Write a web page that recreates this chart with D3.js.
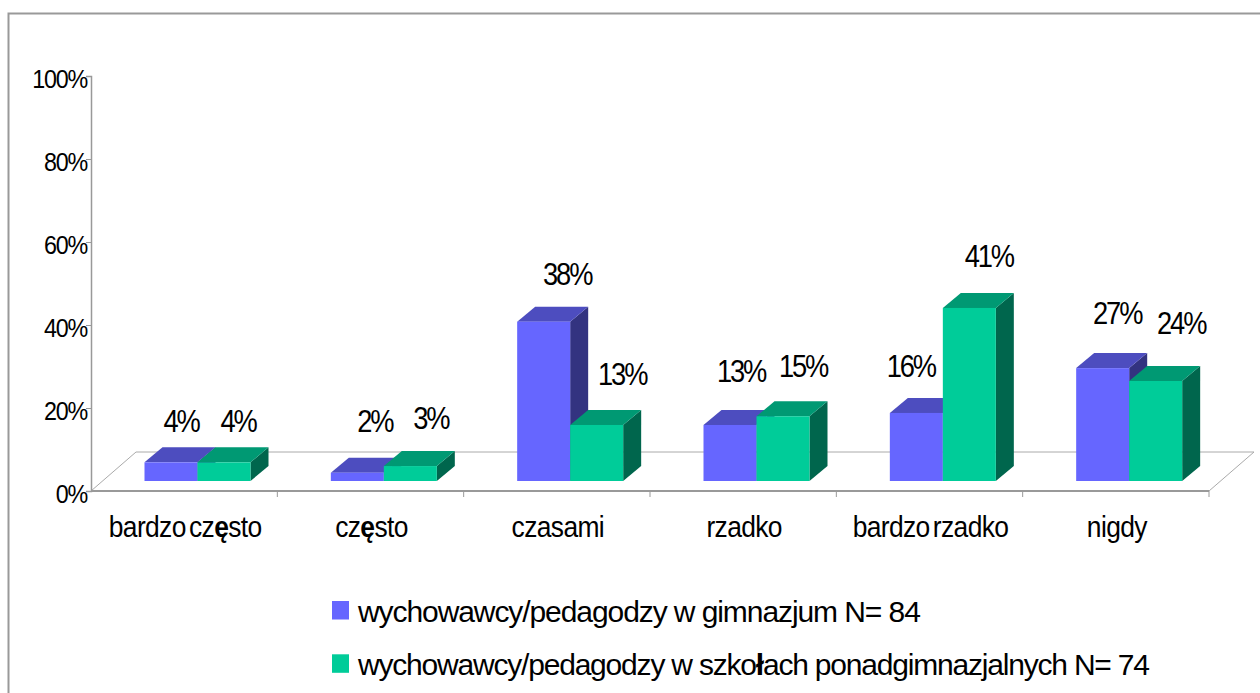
<!DOCTYPE html>
<html><head><meta charset="utf-8">
<script src="https://d3js.org/d3.v7.min.js"></script>
<style>
html,body{margin:0;padding:0;background:#fff;overflow:hidden}
svg{display:block}
text{font-family:"Liberation Sans",Arial,sans-serif;fill:#000}
</style></head><body>
<svg id="c" width="1260" height="693"></svg>
<script>
const categories=["bardzo często","często","czasami","rzadko","bardzo rzadko","nigdy"];
const seriesNames=["wychowawcy/pedagodzy w gimnazjum N= 84","wychowawcy/pedagodzy w szkołach ponadgimnazjalnych N= 74"];
const gimnazjum=[4.5,2,38.4,13.5,16.4,27.2];
const ponadgimnazjalne=[4.5,3.6,13.5,15.6,41.7,24.1];
const gimnazjumLabels=["4%","2%","38%","13%","16%","27%"];
const ponadLabels=["4%","3%","13%","15%","41%","24%"];
const yTicks=[0,20,40,60,80,100];

// layout
const svg=d3.select("#c");
const x0=91,x1=1209,yB=491,yT=76;
const floorD={x:45,y:-39}, barD={x:18,y:-15}, barLift=-10;
const barW=53, barStart=53.5;
const fills=[{f:"#6666FF",t:"#4D4DBF",s:"#333380"},{f:"#00CC99",t:"#009973",s:"#00664D"}];
// hand-placed label nudges of the original, relative to the back top edge of the bar [dx,dy]
const nudgeA=[[-8,-15],[-0.5,-25.5],[5.5,-21.5],[-7,-27.5],[-23.5,-21],[-3.5,-29]];
const nudgeB=[[-4,-15],[2.5,-22],[7.5,-24.5],[2,-24.5],[1.5,-26],[7.5,-32]];

const y=d3.scaleLinear().domain([0,100]).range([yB,yT]);
const xb=d3.scaleBand().domain(categories).range([x0,x1]);

// frame
svg.append("path").attr("d","M1262,13.5H8.5V695").attr("fill","none").attr("stroke","#999").attr("stroke-width",2);

// floor
svg.append("path").attr("d",d3.line()([[x0,yB],[x0+floorD.x,yB+floorD.y],[x1+floorD.x,yB+floorD.y],[x1,yB]]))
  .attr("fill","none").attr("stroke","#aaa").attr("stroke-width",1);

// y axis
const ya=svg.append("g").attr("transform",`translate(${x0},0)`)
  .call(d3.axisLeft(y).tickValues(yTicks).tickSize(5).tickFormat(d=>d+"%"));
ya.select(".domain").attr("stroke","#999").attr("stroke-width",1.5);
ya.selectAll("line").attr("stroke","#999");
ya.selectAll("text").attr("font-size",26.5).style("letter-spacing","-1.4px").attr("dy","11.5px").attr("x",0).attr("transform","translate(-4,0) scale(0.88,1)");

// x axis
const xa=svg.append("g").attr("transform",`translate(0,${yB})`)
  .call(d3.axisBottom(xb).tickSize(0).tickPadding(0));
xa.select(".domain").attr("stroke","#999").attr("stroke-width",2).attr("d",`M${x0},0H${x1}`);
xa.selectAll("text").each(function(d){
  const t=d3.select(this).text("").attr("font-size",30).style("letter-spacing","-0.7px").style("word-spacing","-4px")
    .attr("y",46).attr("dy",0).attr("transform","translate(1,0) scale(0.88,1)");
  for(const part of d.split(/(ę)/)){ if(part) t.append("tspan").text(part).attr("font-weight",part==="ę"?"bold":null); }
});
svg.append("g").selectAll("line").data(d3.range(1,categories.length+1)).join("line")
  .attr("x1",i=>x0+xb.step()*i).attr("x2",i=>x0+xb.step()*i).attr("y1",yB).attr("y2",yB+6)
  .attr("stroke","#999");

// bars
const series=[gimnazjum,ponadgimnazjalne];
categories.forEach((c,i)=>{
  const g=svg.append("g");
  series.forEach((vals,s)=>{
    const l=xb(c)+barStart+s*barW, r=l+barW, bot=yB+barLift, top=y(vals[i])+barLift;
    const col=fills[s];
    g.append("path").attr("fill",col.s).attr("d",d3.line()([[r,bot],[r,top],[r+barD.x,top+barD.y],[r+barD.x,bot+barD.y]]));
    g.append("path").attr("fill",col.t).attr("d",d3.line()([[l,top],[l+barD.x,top+barD.y],[r+barD.x,top+barD.y],[r,top]]));
    g.append("rect").attr("x",l).attr("y",top).attr("width",barW).attr("height",bot-top).attr("fill",col.f);
  });
});

// value labels
[[gimnazjum,gimnazjumLabels,nudgeA],[ponadgimnazjalne,ponadLabels,nudgeB]].forEach(([vals,labs,n],s)=>{
  svg.append("g").selectAll("text").data(categories).join("text")
    .attr("text-anchor","middle").attr("font-size",31).style("letter-spacing","-2.4px")
    .attr("transform",(c,i)=>`translate(${xb(c)+barStart+s*barW+barW/2+barD.x+n[i][0]},${y(vals[i])+barLift+barD.y+n[i][1]}) scale(0.88,1)`)
    .text((c,i)=>labs[i]);
});

// legend
const leg=svg.append("g");
const legendSpacing=["-1.08px","-1.2px"];
seriesNames.forEach((name,i)=>{
  const yy=601+i*53.3;
  leg.append("rect").attr("x",332).attr("y",yy).attr("width",17).attr("height",18.5).attr("fill",fills[i].f);
  const t=leg.append("text").attr("x",358).attr("y",yy+21).attr("font-size",30).style("letter-spacing",legendSpacing[i]);
  for(const part of name.split(/(ł)/)){ if(part) t.append("tspan").text(part).attr("font-weight",part==="ł"?"bold":null); }
});
</script>
</body></html>
